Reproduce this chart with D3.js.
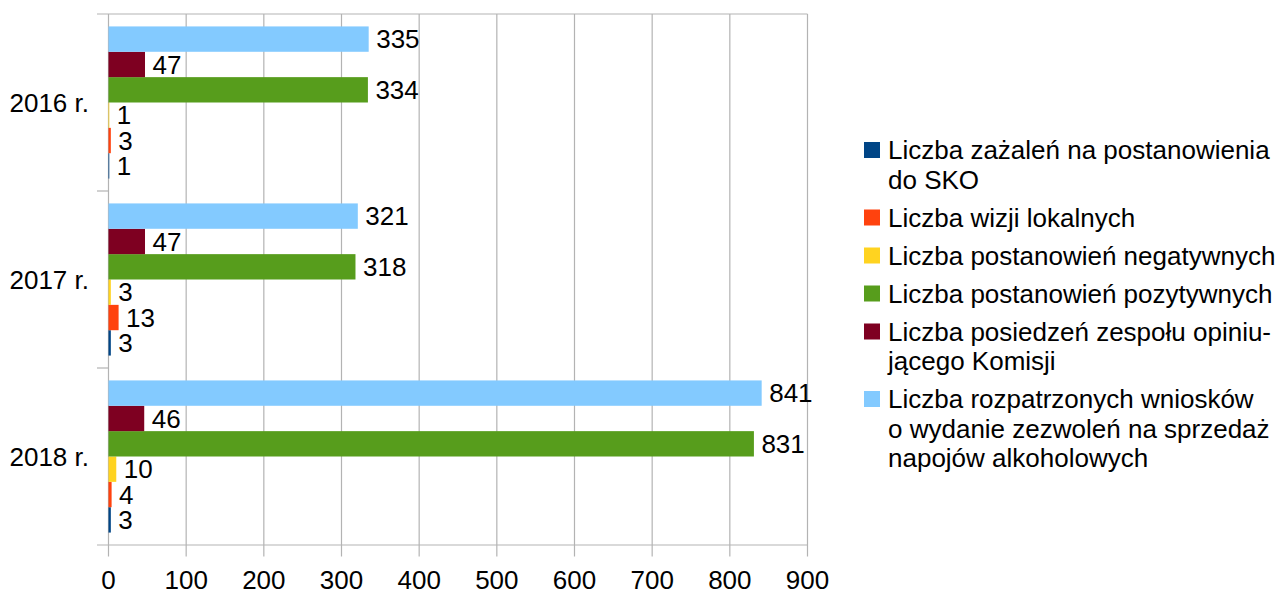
<!DOCTYPE html>
<html>
<head>
<meta charset="utf-8">
<script src="https://cdn.jsdelivr.net/npm/d3@7"></script>
<style>
  html, body { margin: 0; padding: 0; background: #fff; }
  svg { display: block; }
  text { font-family: "Liberation Sans", Arial, sans-serif; fill: #000; }
</style>
</head>
<body>
<svg id="chart" width="1278" height="591"></svg>
<script>
// Years shown on the category axis, top to bottom
const years = ["2016 r.", "2017 r.", "2018 r."];

// Series, in legend order (bars are stacked in reverse order inside a group)
const seriesNames = [
  ["Liczba zażaleń na postanowienia", "do SKO"],
  ["Liczba wizji lokalnych"],
  ["Liczba postanowień negatywnych"],
  ["Liczba postanowień pozytywnych"],
  ["Liczba posiedzeń zespołu opiniu-", "jącego Komisji"],
  ["Liczba rozpatrzonych wniosków", "o wydanie zezwoleń na sprzedaż", "napojów alkoholowych"]
];
const seriesColors = ["#004586", "#ff420e", "#ffd320", "#579d1c", "#7e0021", "#83caff"];

// Values per series, one per year (2016, 2017, 2018)
const zazalenia      = [1, 3, 3];
const wizje          = [3, 13, 4];
const negatywne      = [1, 3, 10];
const pozytywne      = [334, 318, 831];
const posiedzenia    = [47, 47, 46];
const rozpatrzone    = [335, 321, 841];
const seriesValues = [zazalenia, wizje, negatywne, pozytywne, posiedzenia, rozpatrzone];

// Value axis ticks
const xTicks = [0, 100, 200, 300, 400, 500, 600, 700, 800, 900];

const svg = d3.select("#chart");
const FONT = 26;

const plot = { left: 108.5, right: 807.5, top: 14, bottom: 545 };

const x = d3.scaleLinear().domain([0, 900]).range([plot.left, plot.right]);
const y = d3.scaleBand().domain(years).range([plot.top, plot.bottom]).padding(0);

// Inside a group the last series sits on top
const drawOrder = d3.range(seriesNames.length).reverse();
const inner = d3.scaleBand().domain(drawOrder).range([0, y.bandwidth()])
  .paddingInner(0).paddingOuter(0.49);

const grid = "#b3b3b3";

// Vertical grid lines with short ticks below the plot
const gx = svg.append("g");
gx.selectAll("line.grid").data(xTicks).join("line")
  .attr("x1", d => x(d)).attr("x2", d => x(d))
  .attr("y1", plot.top).attr("y2", plot.bottom + 11.5)
  .attr("stroke", grid).attr("stroke-width", 1.2);

// Top and bottom frame lines
gx.selectAll("line.h").data([plot.top, plot.bottom]).join("line")
  .attr("x1", plot.left - 11.5).attr("x2", plot.right)
  .attr("y1", d => d).attr("y2", d => d)
  .attr("stroke", grid).attr("stroke-width", 1.2);

// Category separators on the left
const seps = years.slice(1).map(d => y(d));
gx.selectAll("line.sep").data(seps).join("line")
  .attr("x1", plot.left - 11.5).attr("x2", plot.left)
  .attr("y1", d => d).attr("y2", d => d)
  .attr("stroke", grid).attr("stroke-width", 1.2);

// Bars
const rows = [];
years.forEach((yr, yi) => {
  seriesValues.forEach((vals, si) => {
    rows.push({ year: yr, s: si, v: vals[yi] });
  });
});

svg.append("g").selectAll("rect").data(rows).join("rect")
  .attr("x", x(0))
  .attr("y", d => y(d.year) + inner(d.s))
  .attr("width", d => x(d.v) - x(0))
  .attr("height", inner.bandwidth())
  .attr("fill", d => seriesColors[d.s]);

// Value labels
svg.append("g").selectAll("text").data(rows).join("text")
  .attr("x", d => x(d.v) + 7.5)
  .attr("y", d => y(d.year) + inner(d.s) + inner.bandwidth() / 2)
  .attr("dy", "0.35em")
  .style("font-size", FONT + "px")
  .text(d => d.v);

// Category labels
svg.append("g").selectAll("text").data(years).join("text")
  .attr("x", 89)
  .attr("y", d => y(d) + y.bandwidth() / 2)
  .attr("dy", "0.35em")
  .attr("text-anchor", "end")
  .style("font-size", FONT + "px")
  .text(d => d);

// Value axis labels
svg.append("g").selectAll("text").data(xTicks).join("text")
  .attr("x", d => x(d))
  .attr("y", 588.5)
  .attr("text-anchor", "middle")
  .style("font-size", FONT + "px")
  .text(d => d);

// Legend
const legend = svg.append("g");
const lineH = 29.5, entryGap = 8.5;
let ly = 150;
seriesNames.forEach((lines, i) => {
  legend.append("rect")
    .attr("x", 864).attr("y", ly - 8)
    .attr("width", 16).attr("height", 16)
    .attr("fill", seriesColors[i]);
  const t = legend.append("text")
    .attr("x", 888).attr("y", ly)
    .style("font-size", FONT + "px");
  lines.forEach((ln, k) => {
    t.append("tspan").attr("x", 888).attr("y", ly + k * lineH).attr("dy", "0.35em").text(ln);
  });
  ly += lines.length * lineH + entryGap;
});
</script>
</body>
</html>
